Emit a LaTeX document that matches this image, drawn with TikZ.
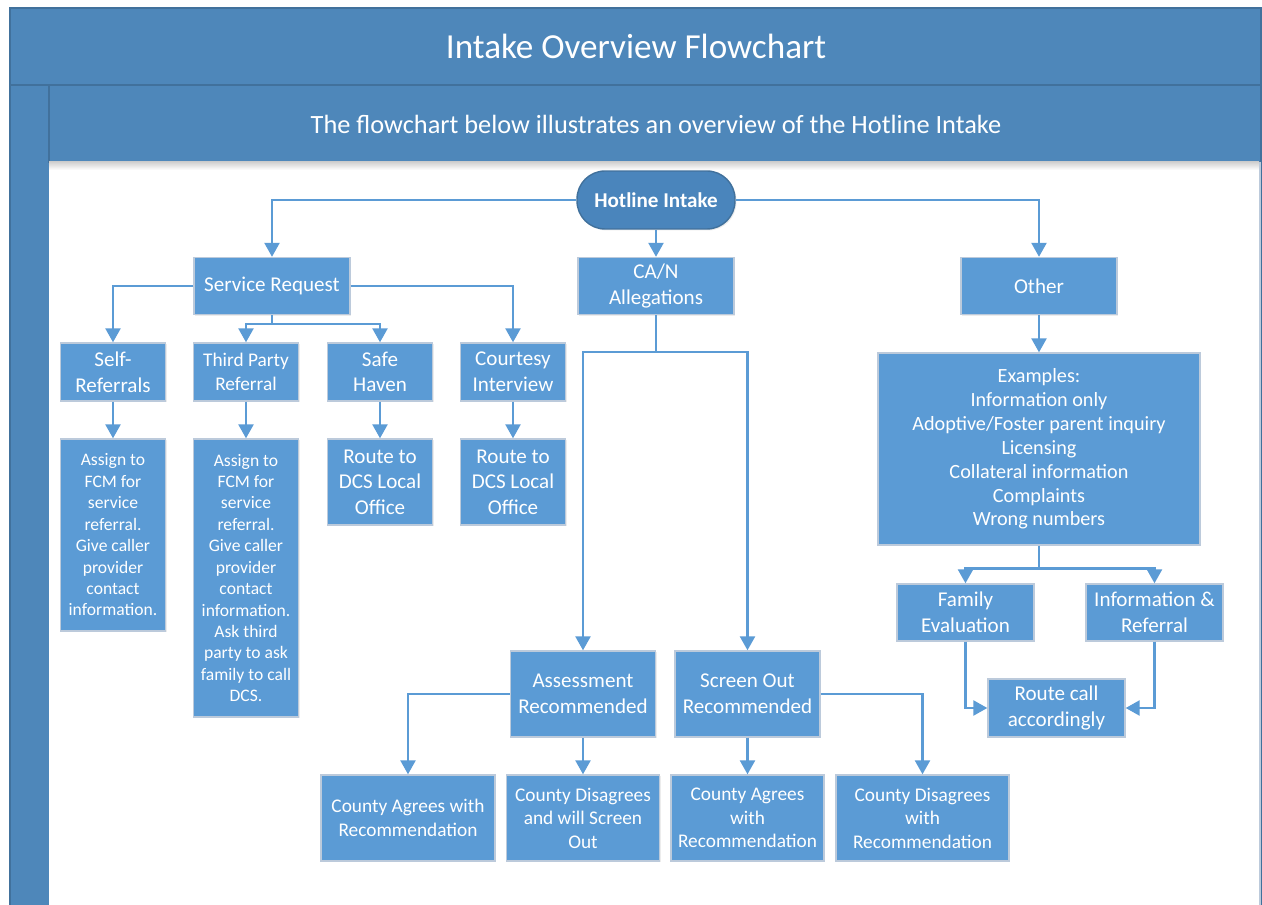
\documentclass[tikz,border=0pt]{standalone}
\usepackage{fontspec}
\setmainfont{Carlito}
\usetikzlibrary{arrows.meta, positioning, calc, shadows}
\definecolor{boxblue}{HTML}{5B9BD5}
\definecolor{boxedge}{HTML}{BCCADB}
\definecolor{frameblue}{HTML}{4E87BA}
\definecolor{frameedge}{HTML}{41719C}
\definecolor{hotblue}{HTML}{4A85BC}
\tikzset{
  box/.style={draw=boxedge, line width=0.8pt, fill=boxblue, text=white, align=center, inner sep=1pt,
    drop shadow={shadow xshift=0.8pt, shadow yshift=-0.8pt, opacity=0.15}},
  hot/.style={box, draw=frameedge, fill=hotblue, rounded corners=0.56cm, font=\fontsize{12}{14.6}\selectfont\bfseries},
  wh/.style 2 args={minimum width=#1, minimum height=#2},
  f20/.style={font=\fontsize{20}{24}\selectfont},
  f15/.style={font=\fontsize{15}{18}\selectfont},
  f12/.style={font=\fontsize{12}{14.6}\selectfont},
  f11/.style={font=\fontsize{11}{13.4}\selectfont},
  f10/.style={font=\fontsize{10}{12.2}\selectfont},
  link/.style={line width=1.4pt, draw=boxblue},
  arr/.style={link, -{Triangle[length=2.8mm, width=3mm]}},
}

\begin{document}
\begin{tikzpicture}[x=0.02cm, y=-0.02cm]
    \useasboundingbox (0,0) rectangle (1262,905);
    % frame and header bands
    \filldraw[fill=frameblue, draw=frameedge, line width=0.8pt] (10,8) rectangle (1261,915);
    \draw[frameedge, line width=0.8pt] (10,85) -- (1261,85);
    \draw[frameedge, line width=0.8pt] (49,85) rectangle (1261,162);
    \fill[white] (49,162) rectangle (1259,915);
    \shade[top color=black!18, bottom color=white] (49,162) rectangle (1259,170);
    \draw[boxedge, line width=0.8pt] (1260,162) -- (1260,915);
    \node[f20, text=white] (title) at (636,46) {Intake Overview Flowchart};
    \node[f15, text=white] (subtitle) at (656,124) {The flowchart below illustrates an overview of the Hotline Intake};

    % top level
    \node[hot, wh={3.16cm}{1.16cm}] (hot) at (656,200) {Hotline Intake};
    \node[box, f12, wh={3.12cm}{1.14cm}] (sr) at (272,286) {Service Request};
    \node[box, f12, wh={3.12cm}{1.14cm}] (can) at (656,286) {CA/N\\Allegations};
    \node[box, f12, wh={3.12cm}{1.14cm}] (oth) at (1039,286) {Other};

    % service request branch
    \node[box, f12, wh={2.1cm}{1.16cm}] (selfr) at (113,372) {Self-\\Referrals};
    \node[box, f11, wh={2.1cm}{1.16cm}] (third) at (246,372) {Third Party\\Referral};
    \node[box, f12, wh={2.1cm}{1.16cm}] (safe) at (380,372) {Safe\\Haven};
    \node[box, f12, wh={2.1cm}{1.16cm}] (court) at (513,372) {Courtesy\\Interview};
    \node[box, f10, wh={2.1cm}{3.84cm}] (assign1) at (113,535) {Assign to\\FCM for\\service\\referral.\\Give caller\\provider\\contact\\information.};
    \node[box, f10, wh={2.1cm}{5.56cm}] (assign2) at (246,578) {Assign to\\FCM for\\service\\referral.\\Give caller\\provider\\contact\\information.\\Ask third\\party to ask\\family to call\\DCS.};
    \node[box, f12, wh={2.1cm}{1.72cm}] (route1) at (380,482) {Route to\\DCS Local\\Office};
    \node[box, f12, wh={2.1cm}{1.72cm}] (route2) at (513,482) {Route to\\DCS Local\\Office};

    % CA/N branch
    \node[box, f12, wh={2.9cm}{1.72cm}] (assess) at (583,694) {Assessment\\Recommended};
    \node[box, f12, wh={2.9cm}{1.72cm}] (screen) at (747.5,694) {Screen Out\\Recommended};
    \node[box, f11, wh={3.48cm}{1.72cm}] (cag1) at (408,818) {County Agrees with\\Recommendation};
    \node[box, f11, wh={3.06cm}{1.72cm}] (cdis1) at (583,818) {County Disagrees\\and will Screen\\Out};
    \node[box, f11, wh={3.06cm}{1.72cm}] (cag2) at (747.5,818) {County Agrees\\with\\Recommendation};
    \node[box, f11, wh={3.46cm}{1.72cm}] (cdis2) at (922.5,818) {County Disagrees\\with\\Recommendation};

    % other branch
    \node[box, font=\fontsize{11.5}{13.6}\selectfont, wh={6.44cm}{3.84cm}] (ex) at (1039,449) {Examples:\\Information only\\Adoptive/Foster parent inquiry\\Licensing\\Collateral information\\Complaints\\Wrong numbers};
    \node[box, f12, wh={2.74cm}{1.14cm}] (fam) at (965.5,612.5) {Family\\Evaluation};
    \node[box, f12, wh={2.74cm}{1.14cm}] (info) at (1154.5,612.5) {Information \&\\Referral};
    \node[box, f12, wh={2.74cm}{1.16cm}] (rcall) at (1056.5,708) {Route call\\accordingly};

    % connectors
    \draw[arr] (hot.west) -| (sr.north);
    \draw[arr] (hot.east) -| (oth.north);
    \draw[arr] (hot.south) -- (can.north);

    \draw[arr] (sr.west) -| (selfr.north);
    \draw[arr] (sr.east) -| (court.north);
    \draw[link] (sr.south) -- ++(0,9) coordinate (srj);
    \draw[arr] (srj) -| (third.north);
    \draw[arr] (srj) -| (safe.north);
    \draw[arr] (selfr) -- (assign1);
    \draw[arr] (third) -- (assign2);
    \draw[arr] (safe) -- (route1);
    \draw[arr] (court) -- (route2);

    \draw[link] (can.south) -- ++(0,37) coordinate (canj);
    \draw[arr] (canj) -| (assess.north);
    \draw[arr] (canj) -| (screen.north);
    \draw[arr] (assess.west) -| (cag1.north);
    \draw[arr] (assess) -- (cdis1);
    \draw[arr] (screen) -- (cag2);
    \draw[arr] (screen.east) -| (cdis2.north);

    \draw[arr] (oth) -- (ex);
    \draw[link] (ex.south) -- ++(0,23) coordinate (exj);
    \draw[arr] (exj) -| (fam.north);
    \draw[arr] (exj) -| (info.north);
    \draw[arr] (fam.south) |- (rcall.west);
    \draw[arr] (info.south) |- (rcall.east);
  \end{tikzpicture}
\end{document}
